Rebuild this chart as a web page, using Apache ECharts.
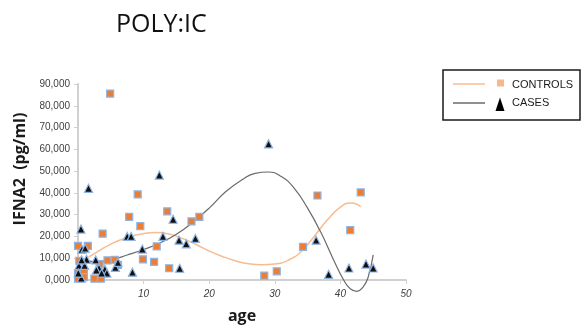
<!DOCTYPE html>
<html>
<head>
<meta charset="utf-8">
<script src="https://cdn.jsdelivr.net/npm/echarts@6/dist/echarts.min.js"></script>
<style>
  html, body { margin: 0; padding: 0; background: #fff; }
  #chart { width: 585px; height: 329px; }
</style>
</head>
<body>
<div id="chart"></div>
<script>
// IFNA2 response to POLY:IC by age — controls vs cases, each with a trend line

// Controls: [age, IFNA2 pg/ml]
const controls = [
  [4.9, 85600], [9.1, 39300], [7.8, 29000], [13.6, 31500], [9.5, 24700],
  [3.75, 21300], [17.3, 26900], [18.5, 29000], [12.0, 15400], [9.9, 9500],
  [11.6, 8300], [13.9, 5400], [0.0, 15700], [1.5, 15700], [0.2, 8800],
  [4.5, 9000], [5.6, 9300], [6.1, 6900], [3.3, 7300], [0.0, 3200],
  [0.0, 600], [0.9, 3600], [0.9, 1300], [2.5, 600], [3.5, 600],
  [36.5, 38800], [43.1, 40200], [41.5, 22900], [34.3, 15200], [28.4, 2000],
  [30.3, 4000]
];

// Cases: [age, IFNA2 pg/ml]
const cases = [
  [29.05, 62500], [12.4, 48200], [1.6, 42100], [0.45, 23400], [7.5, 20000],
  [8.1, 20000], [14.5, 27900], [12.95, 20000], [9.8, 14200], [15.4, 18300],
  [16.5, 16600], [17.9, 19100], [8.3, 3600], [15.5, 5400], [5.7, 5800],
  [6.1, 8100], [2.7, 9200], [1.3, 9500], [0.6, 14100], [1.1, 14600],
  [0.15, 6700], [1.0, 6700], [3.2, 5500], [2.8, 4600], [4.1, 4900],
  [4.4, 3200], [3.6, 3200], [0.5, 900], [0.05, 3200], [0.55, 9200],
  [36.3, 18300], [38.2, 2600], [41.3, 5500], [43.9, 7300], [45.0, 5500]
];

// Trend line through the controls
const controlsTrend = [
  [1.6, 10500], [3, 13000], [5, 16500], [7.5, 19500], [10, 21300],
  [12, 21800], [14, 21000], [16, 19000], [18, 16300], [20, 13300],
  [22, 10800], [24, 8800], [26, 7500], [28, 7000], [30, 7300],
  [32, 9000], [34, 13000], [36, 20000], [38, 27500], [40, 33500],
  [41.5, 35300], [42.5, 34800], [43.1, 33500]
];

// Trend line through the cases
const casesTrend = [
  [0.5, 10000], [2.5, 8300], [5, 9200], [7.5, 11500], [10, 14000],
  [12.5, 17000], [15, 21000], [17.5, 26500], [20, 33000], [22.5, 40500],
  [25, 46000], [27, 49000], [29, 49600], [31, 47500], [33, 42000],
  [35, 33000], [37, 22000], [39, 9000], [40.5, 0], [41.5, -4000],
  [42.5, -5200], [43.5, -3000], [44.2, 1000], [45, 11500]
];

const xTicks = { min: 0, max: 50, step: 10 };
const yTicks = { min: 0, max: 90000, step: 10000 };

const labelColor = '#404040';
const axisGray = '#d0d0d0';
const squareFill = '#ED7D31';
const triFill = '#111111';
const markerEdge = '#8FB4E3';
const controlsLine = '#F6BC92';
const casesLine = '#6a6a6a';

const chart = echarts.init(document.getElementById('chart'), null, { renderer: 'canvas' });

chart.setOption({
  backgroundColor: '#ffffff',
  animation: false,
  title: {
    text: 'POLY:IC',
    left: 111,
    top: 7,
    textStyle: { fontFamily: 'Open Sans', fontSize: 25, fontWeight: 'normal', color: '#111' }
  },
  grid: { left: 78, top: 84, width: 328, height: 198, containLabel: false },
  xAxis: {
    type: 'value',
    min: xTicks.min, max: xTicks.max, interval: xTicks.step,
    name: 'age',
    nameLocation: 'middle',
    nameGap: 36,
    nameTextStyle: {
      fontFamily: 'Open Sans', fontSize: 16, fontWeight: 'bold', color: '#1a1a1a',
      verticalAlign: 'middle'
    },
    splitLine: { show: false },
    axisLine: { lineStyle: { color: axisGray, width: 2 } },
    axisTick: { show: true, length: 4, lineStyle: { color: axisGray } },
    axisLabel: {
      showMinLabel: false,
      margin: 9,
      fontFamily: 'Liberation Sans', fontSize: 10, color: labelColor, fontStyle: 'italic'
    }
  },
  yAxis: {
    type: 'value',
    min: yTicks.min, max: yTicks.max, interval: yTicks.step,
    splitLine: { show: false },
    axisLine: { show: true, lineStyle: { color: axisGray, width: 2 } },
    axisTick: { show: true, length: 4, lineStyle: { color: axisGray } },
    axisLabel: {
      margin: 8,
      fontFamily: 'Liberation Sans', fontSize: 10, color: labelColor,
      formatter: function (v) { return (v / 1000) + ',000'; }
    }
  },
  series: [
    {
      name: 'CONTROLS trend', type: 'line', data: controlsTrend, smooth: true,
      showSymbol: false, clip: false, z: 2,
      lineStyle: { color: controlsLine, width: 1.5 }
    },
    {
      name: 'CASES trend', type: 'line', data: casesTrend, smooth: true,
      showSymbol: false, clip: false, z: 2,
      lineStyle: { color: casesLine, width: 1.2 }
    },
    {
      name: 'CONTROLS', type: 'scatter', data: controls, symbol: 'rect', symbolSize: 7, z: 3,
      itemStyle: { color: squareFill, borderColor: markerEdge, borderWidth: 1.2, opacity: 1 }
    },
    {
      name: 'CASES', type: 'scatter', data: cases, symbol: 'triangle', symbolSize: [8, 8], z: 4,
      itemStyle: { color: triFill, borderColor: markerEdge, borderWidth: 1.2, opacity: 1 }
    }
  ],
  graphic: [
    // y axis title
    {
      type: 'text', x: 20, y: 169, rotation: Math.PI / 2,
      style: {
        text: 'IFNA2  (pg/ml)', fill: '#1a1a1a',
        font: 'bold 16px "Open Sans"', align: 'center', verticalAlign: 'middle'
      }
    },
    // legend box
    {
      type: 'rect', shape: { x: 443, y: 70, width: 137, height: 50 },
      style: { fill: '#fff', stroke: '#1a1a1a', lineWidth: 1.5 }
    },
    {
      type: 'line', shape: { x1: 453, y1: 84, x2: 485, y2: 84 },
      style: { stroke: controlsLine, lineWidth: 1.5 }
    },
    {
      type: 'rect', shape: { x: 497, y: 79.5, width: 7, height: 7 },
      style: { fill: '#F8B98A' }
    },
    {
      type: 'text', x: 512, y: 84.5,
      style: { text: 'CONTROLS', fill: '#1a1a1a', font: '11px "Liberation Sans"', verticalAlign: 'middle' }
    },
    {
      type: 'line', shape: { x1: 453, y1: 103, x2: 485, y2: 103 },
      style: { stroke: casesLine, lineWidth: 1.5 }
    },
    {
      type: 'polygon', shape: { points: [[500, 97.5], [504.5, 111], [495.5, 111]] },
      style: { fill: '#000' }
    },
    {
      type: 'text', x: 512, y: 103,
      style: { text: 'CASES', fill: '#1a1a1a', font: '11px "Liberation Sans"', verticalAlign: 'middle' }
    }
  ]
});
</script>
</body>
</html>
